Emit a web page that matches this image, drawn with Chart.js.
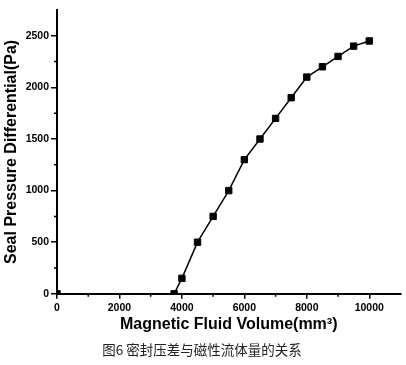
<!DOCTYPE html>
<html>
<head>
<meta charset="utf-8">
<script src="https://cdn.jsdelivr.net/npm/chart.js@4"></script>
<style>
  html, body { margin: 0; padding: 0; background: #fff; }
  #wrap { width: 406px; height: 365px; }
</style>
</head>
<body>
<div id="wrap"><canvas id="sealChart" width="406" height="365"></canvas></div>
<script>
// magnetic fluid volume (mm^3) and seal pressure differential (Pa)
var volume = [0, 3750, 4000, 4500, 5000, 5500, 6000, 6500, 7000, 7500, 8000, 8500, 9000, 9500, 10000];
var pressure = [0, 0, 150, 500, 750, 1000, 1300, 1500, 1700, 1900, 2100, 2200, 2300, 2400, 2450];
var xTicks = [0, 2000, 4000, 6000, 8000, 10000];
var yTicks = [0, 500, 1000, 1500, 2000, 2500];

var points = volume.map(function (v, i) { return { x: v, y: pressure[i] }; });

// short minor ticks between the labelled ones
var minorTicks = {
  id: 'minorTicks',
  afterDraw: function (chart) {
    var ctx = chart.ctx, xs = chart.scales.x, ys = chart.scales.y;
    ctx.save();
    ctx.strokeStyle = '#000';
    ctx.lineWidth = 1.5;
    ctx.beginPath();
    for (var v = 1000; v < 11000; v += 2000) {
      var px = xs.getPixelForValue(v);
      ctx.moveTo(px, ys.bottom);
      ctx.lineTo(px, ys.bottom + 3);
    }
    for (var w = 250; w < 2750; w += 500) {
      var py = ys.getPixelForValue(w);
      ctx.moveTo(xs.left, py);
      ctx.lineTo(xs.left - 3, py);
    }
    ctx.stroke();
    ctx.restore();
  }
};

var tickFont = { family: '"Liberation Sans", Arial', size: 10.5, weight: 'bold' };
var titleFont = { family: '"Liberation Sans", Arial', size: 16, weight: 'bold' };

var ctx = document.getElementById("sealChart").getContext("2d");
var sealChart = new Chart(ctx, {
  type: 'scatter',
  data: {
    datasets: [{
      data: points,
      showLine: true,
      borderColor: '#000',
      borderWidth: 1.5,
      backgroundColor: '#000',
      pointStyle: 'rect',
      pointRadius: 4.5,
      pointBorderWidth: 1,
      pointHoverRadius: 4.5,
      clip: 0,
      segment: {
        borderColor: function (c) { return c.p0DataIndex === 0 ? 'transparent' : '#000'; }
      }
    }]
  },
  options: {
    responsive: false,
    animation: false,
    layout: { padding: { top: 10, right: 2, left: 0, bottom: 0 } },
    plugins: {
      legend: { display: false },
      tooltip: { enabled: false },
      title: {
        display: true,
        position: 'bottom',
        text: '图6 密封压差与磁性流体量的关系',
        color: '#222',
        font: { family: '"Noto Sans CJK SC"', size: 13.5, weight: 'normal' },
        padding: { top: 6, bottom: 7 }
      }
    },
    scales: {
      x: {
        type: 'linear',
        min: 0,
        max: 11000,
        afterFit: function (s) { s.height = 42; },
        afterBuildTicks: function (s) { s.ticks = xTicks.map(function (v) { return { value: v }; }); },
        border: { display: true, color: '#000', width: 2 },
        grid: { drawOnChartArea: false, drawTicks: true, tickLength: 5, color: '#000', lineWidth: 1.5 },
        ticks: {
          color: '#000',
          padding: 3,
          maxRotation: 0,
          font: tickFont,
          callback: function (v) { return String(v); }
        },
        title: {
          display: true,
          text: 'Magnetic Fluid Volume(mm³)',
          color: '#000',
          font: titleFont,
          padding: { top: 0, bottom: 2 }
        }
      },
      y: {
        type: 'linear',
        min: 0,
        max: 2750,
        afterFit: function (s) { s.width = 57; },
        afterBuildTicks: function (s) { s.ticks = yTicks.map(function (v) { return { value: v }; }); },
        border: { display: true, color: '#000', width: 2 },
        grid: { drawOnChartArea: false, drawTicks: true, tickLength: 6, color: '#000', lineWidth: 1.5 },
        ticks: {
          color: '#000',
          padding: 2,
          font: tickFont,
          callback: function (v) { return String(v); }
        },
        title: {
          display: true,
          text: 'Seal Pressure Differential(Pa)',
          color: '#000',
          font: titleFont,
          padding: { top: 2, bottom: 0 }
        }
      }
    }
  },
  plugins: [minorTicks]
});
</script>
</body>
</html>
